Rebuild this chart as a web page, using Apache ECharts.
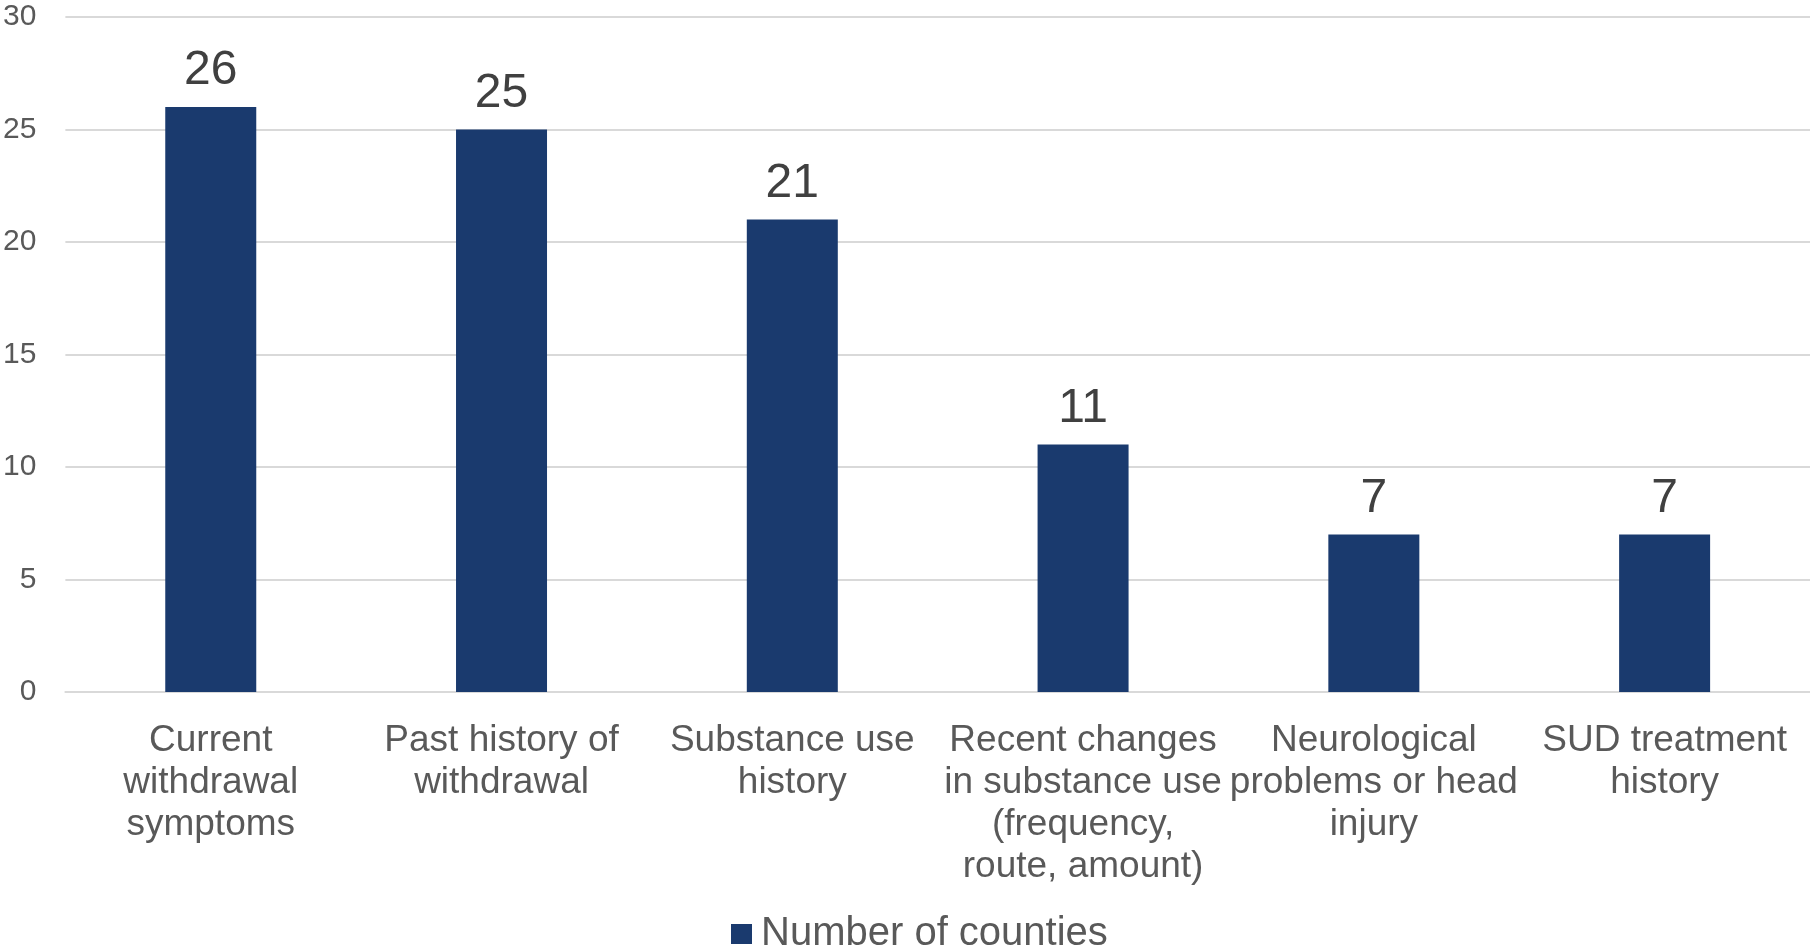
<!DOCTYPE html>
<html>
<head>
<meta charset="utf-8">
<script src="https://cdn.jsdelivr.net/npm/echarts@6/dist/echarts.min.js"></script>
<style>
  html, body { margin: 0; padding: 0; background: #ffffff; }
  #chart { width: 1810px; height: 951px; }
</style>
</head>
<body>
<div id="chart"></div>
<script>
// Assessment criteria and the number of counties using each
const categories = [
  'Current\nwithdrawal\nsymptoms',
  'Past history of\nwithdrawal',
  'Substance use\nhistory',
  'Recent changes\nin substance use\n(frequency,\nroute, amount)',
  'Neurological\nproblems or head\ninjury',
  'SUD treatment\nhistory'
];
const countyCounts = [26, 25, 21, 11, 7, 7];
const seriesName = 'Number of counties';

const FONT = '"Liberation Sans", Arial, sans-serif';
const BAR = '#1A3A6E';

const chart = echarts.init(document.getElementById('chart'), null, { renderer: 'canvas' });
chart.setOption({
  animation: false,
  backgroundColor: '#ffffff',
  textStyle: { fontFamily: FONT },
  grid: { left: 64, right: 0, top: 17, bottom: 259, containLabel: false },
  legend: {
    bottom: -3,
    left: 731,
    padding: 0,
    itemWidth: 21,
    itemHeight: 20,
    icon: 'rect',
    textStyle: { fontSize: 40, color: '#595959', fontFamily: FONT, padding: [0, 0, 0, 4] },
    data: [seriesName]
  },
  xAxis: {
    type: 'category',
    data: categories,
    axisLine: { show: true, lineStyle: { color: '#D9D9D9', width: 2 } },
    axisTick: { show: false },
    axisLabel: {
      interval: 0,
      margin: 28,
      fontSize: 37,
      lineHeight: 42,
      color: '#595959',
      fontFamily: FONT,
      align: 'center'
    }
  },
  yAxis: {
    type: 'value',
    min: 0,
    max: 30,
    interval: 5,
    axisLine: { show: false },
    axisTick: { show: false },
    splitLine: { show: true, lineStyle: { color: '#D9D9D9', width: 2 } },
    axisLabel: { fontSize: 30, color: '#595959', margin: 29, fontFamily: FONT }
  },
  series: [{
    name: seriesName,
    type: 'bar',
    data: countyCounts,
    barWidth: 91,
    itemStyle: { color: BAR },
    label: {
      show: true,
      position: 'top',
      distance: 12,
      fontSize: 48,
      color: '#404040',
      fontFamily: FONT
    }
  }]
});
</script>
</body>
</html>
